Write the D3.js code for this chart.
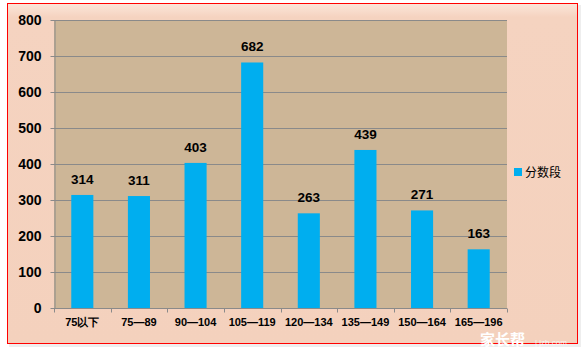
<!DOCTYPE html>
<html><head><meta charset="utf-8">
<script src="https://cdn.jsdelivr.net/npm/d3@7/dist/d3.min.js"></script>
<style>body{margin:0;background:#fff}svg{display:block}</style>
</head><body>
<svg id="c" width="585" height="356"></svg>
<script>
const categories = ["75以下","75—89","90—104","105—119","120—134","135—149","150—164","165—196"];
const values = [314,311,403,682,263,439,271,163];
const yTicks = [0,100,200,300,400,500,600,700,800];
const seriesName = "分数段";

const svg = d3.select("#c");
const defs = svg.append("defs");
const g1 = defs.append("linearGradient").attr("id","bg").attr("x1",0).attr("y1",0).attr("x2",0).attr("y2",1);
g1.append("stop").attr("offset","0").attr("stop-color","#FBE6DA");
g1.append("stop").attr("offset","0.04").attr("stop-color","#F5D3C0");
g1.append("stop").attr("offset","1").attr("stop-color","#F4D1BD");

// shadow
svg.append("rect").attr("x",9).attr("y",5).attr("width",572).attr("height",342).attr("fill","#eee");
svg.append("rect").attr("x",7.5).attr("y",3.5).attr("width",570).attr("height",340)
  .attr("fill","url(#bg)").attr("stroke","#FF0000").attr("stroke-width",1);

const L=54, R=507, T=20, B=308;
const x = d3.scaleBand().domain(categories).range([L,R]).paddingInner(0.61).paddingOuter(0.305);
const y = d3.scaleLinear().domain([0,800]).range([B,T]);

svg.append("rect").attr("x",L).attr("y",T).attr("width",R-L).attr("height",B-T).attr("fill","#CDB697");

// gridlines
svg.append("g").selectAll("line").data(yTicks.filter(d=>d>0)).join("line")
  .attr("x1",L).attr("x2",R).attr("y1",d=>Math.round(y(d))+0.5).attr("y2",d=>Math.round(y(d))+0.5)
  .attr("stroke","#8A8A8A").attr("stroke-width",1);

// bars
svg.append("g").selectAll("rect").data(values).join("rect")
  .attr("x",(d,i)=>x(categories[i])).attr("width",x.bandwidth())
  .attr("y",d=>y(d)).attr("height",d=>B-y(d)).attr("fill","#00AEEF");

// labels
svg.append("g").selectAll("text").data(values).join("text")
  .attr("x",(d,i)=>x(categories[i])+x.bandwidth()/2).attr("y",d=>y(d)-11)
  .attr("text-anchor","middle").attr("font-family","Liberation Sans, Arial, sans-serif")
  .attr("font-weight","bold").attr("font-size",13.5).attr("fill","#000").text(d=>d);

// y axis
const ya = svg.append("g").attr("transform",`translate(${L+0.5},0)`)
  .call(d3.axisLeft(y).tickValues(yTicks).tickSize(4).tickPadding(9).tickSizeOuter(0));
ya.select(".domain").attr("stroke","#8A8A8A");
ya.selectAll(".tick line").attr("stroke","#8A8A8A");
ya.selectAll("text").attr("font-family","Liberation Sans, Arial, sans-serif").attr("font-weight","bold")
  .attr("font-size",14).attr("fill","#000");

// x axis
const xa = svg.append("g").attr("transform",`translate(0,${B+0.5})`);
xa.append("line").attr("x1",L).attr("x2",R).attr("stroke","#8A8A8A");
xa.selectAll("line.t").data(d3.range(categories.length+1)).join("line").attr("class","t")
  .attr("x1",i=>Math.round(L+i*(R-L)/categories.length)+0.5).attr("x2",i=>Math.round(L+i*(R-L)/categories.length)+0.5)
  .attr("y1",0).attr("y2",4).attr("stroke","#8A8A8A");
xa.selectAll("text").data(categories).join("text")
  .attr("x",d=>x(d)+x.bandwidth()/2).attr("y",17.5).attr("text-anchor","middle")
  .attr("font-family","Liberation Sans, Arial, sans-serif").attr("font-weight","bold")
  .attr("font-size",11).attr("fill","#000").text(d=>d);

// legend
svg.append("rect").attr("x",514).attr("y",168).attr("width",8).attr("height",8).attr("fill","#00AEEF");
svg.append("text").attr("x",525).attr("y",176.5).attr("font-family","Noto Sans CJK SC, sans-serif")
  .attr("font-size",12).attr("fill","#000").text(seriesName);

// watermark
svg.append("text").attr("x",480).attr("y",345).attr("font-family","Noto Sans CJK SC, sans-serif")
  .attr("font-weight","bold").attr("font-size",15).attr("fill","#fff").text("家长帮");
svg.append("text").attr("x",535).attr("y",345).attr("font-family","Liberation Sans, sans-serif")
  .attr("font-size",8).attr("fill","#fff").attr("opacity",0.8).text("| jzb.com");
</script>
</body></html>
